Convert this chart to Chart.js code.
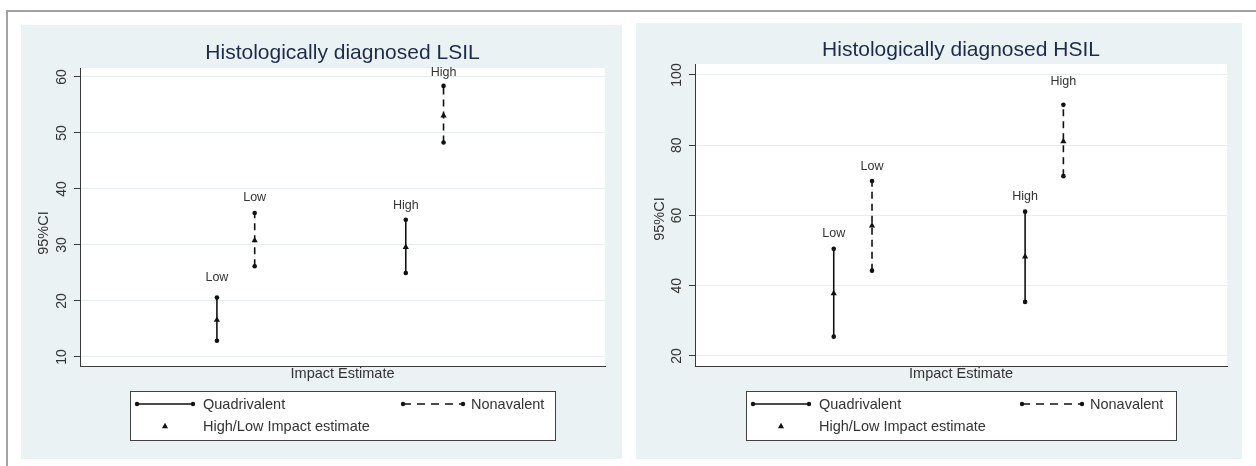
<!DOCTYPE html>
<html>
<head>
<meta charset="utf-8">
<title>Histologically diagnosed LSIL / HSIL</title>
<script src="https://cdn.jsdelivr.net/npm/chart.js@4.4.1/dist/chart.umd.min.js"></script>
<style>
  html, body { margin: 0; padding: 0; background: #fff; }
  body { width: 1256px; height: 466px; position: relative; overflow: hidden;
         font-family: 'Liberation Sans', Arial, sans-serif; }
  .frame { position: absolute; left: 6px; top: 10px; right: -4px; bottom: -4px;
           border-left: 2px solid #a2a2a2; border-top: 2px solid #a2a2a2; }
  .panel { position: absolute; background: #eaf2f3; }
  #panelL { left: 21px; top: 25px; width: 601px; height: 434px; }
  #panelR { left: 636px; top: 23px; width: 606px; height: 436px; }
</style>
</head>
<body>
<div class="frame"></div>
<div class="panel" id="panelL"><canvas id="lsilChart" width="601" height="434"></canvas></div>
<div class="panel" id="panelR"><canvas id="hsilChart" width="606" height="436"></canvas></div>

<script>
// ── Data ───────────────────────────────────────────────
const SERIES_NAMES = ['Quadrivalent', 'Nonavalent'];
const MARKER_NAME  = 'High/Low Impact estimate';
const X_TITLE      = 'Impact Estimate';
const Y_TITLE      = '95%CI';

// one entry per error bar: Quad-Low, Nona-Low, Quad-High, Nona-High
const BAR_SERIES = [0, 1, 0, 1];
const BAR_X      = [1, 1.2, 2, 2.2];
const BAR_LABELS = ['Low', 'Low', 'High', 'High'];

const LSIL_LOWER    = [12.9, 26.2, 25.0, 48.3];
const LSIL_EST      = [16.6, 30.8, 29.6, 53.1];
const LSIL_UPPER    = [20.6, 35.7, 34.5, 58.4];
const LSIL_LABEL_AT = [24.2, 38.4, 37.0, 60.7];
const LSIL_TICKS    = [10, 20, 30, 40, 50, 60];

const HSIL_LOWER    = [25.5, 44.3, 35.4, 71.2];
const HSIL_EST      = [37.8, 57.1, 48.3, 81.1];
const HSIL_UPPER    = [50.5, 69.8, 61.1, 91.5];
const HSIL_LABEL_AT = [54.9, 73.9, 65.3, 98.0];
const HSIL_TICKS    = [20, 40, 60, 80, 100];

// ── Look ───────────────────────────────────────────────
const INK      = '#111111';
const AXIS     = '#3a3a3a';
const GRID     = '#e7edef';
const TEXT     = '#333333';
const TITLE_C  = '#1d2b4a';
const FONT     = "'Liberation Sans', Arial, sans-serif";
const DASH     = [7, 5];

Chart.defaults.font.family = FONT;
Chart.defaults.color = TEXT;

function triangle(ctx, x, y, r) {
  ctx.beginPath();
  ctx.moveTo(x, y - r);
  ctx.lineTo(x + r * 0.95, y + r * 0.7);
  ctx.lineTo(x - r * 0.95, y + r * 0.7);
  ctx.closePath();
  ctx.fill();
}

function dotLine(ctx, x1, x2, y, dash) {
  ctx.save();
  ctx.strokeStyle = INK; ctx.fillStyle = INK; ctx.lineWidth = 1.3;
  ctx.setLineDash(dash);
  ctx.beginPath(); ctx.moveTo(x1, y); ctx.lineTo(x2, y); ctx.stroke();
  ctx.setLineDash([]);
  [x1, x2].forEach(x => { ctx.beginPath(); ctx.arc(x, y, 2.2, 0, Math.PI * 2); ctx.fill(); });
  ctx.restore();
}

// titles, Low/High labels, plot background and the Stata-style legend box
const decor = {
  id: 'decor',
  beforeDraw(chart, args, o) {
    const { ctx, chartArea: a } = chart;
    ctx.save();
    ctx.fillStyle = '#ffffff';
    ctx.fillRect(a.left, a.top, a.right - a.left, a.bottom - a.top);
    ctx.restore();
  },
  afterDatasetsDraw(chart, args, o) {
    const { ctx, scales: { x, y } } = chart;
    ctx.save();
    ctx.fillStyle = TEXT;
    ctx.font = '12.5px ' + FONT;
    ctx.textAlign = 'center';
    ctx.textBaseline = 'middle';
    BAR_LABELS.forEach((t, i) => {
      ctx.fillText(t, x.getPixelForValue(BAR_X[i]), y.getPixelForValue(o.labelAt[i]));
    });
    ctx.restore();
  },
  afterDraw(chart, args, o) {
    const { ctx, chartArea: a } = chart;
    ctx.save();
    // main title
    ctx.fillStyle = TITLE_C;
    ctx.font = '21px ' + FONT;
    ctx.textAlign = 'center';
    ctx.textBaseline = 'alphabetic';
    ctx.fillText(o.title, (a.left + a.right) / 2, o.titleY);
    // y title
    ctx.fillStyle = TEXT;
    ctx.font = '14.5px ' + FONT;
    ctx.textBaseline = 'middle';
    ctx.translate(o.yTitle.x, o.yTitle.y);
    ctx.rotate(-Math.PI / 2);
    ctx.fillText(Y_TITLE, 0, 0);
    ctx.restore();

    // legend
    const lg = o.legend;
    ctx.save();
    ctx.fillStyle = '#ffffff';
    ctx.fillRect(lg.x, lg.y, lg.w, lg.h);
    ctx.strokeStyle = '#404040';
    ctx.lineWidth = 1;
    ctx.strokeRect(lg.x + 0.5, lg.y + 0.5, lg.w, lg.h);
    const r1 = lg.y + 13, r2 = lg.y + 35;
    dotLine(ctx, lg.x + 7, lg.x + 63, r1, []);
    dotLine(ctx, lg.x + lg.nonaX, lg.x + lg.nonaX + 60, r1, [8, 6]);
    ctx.fillStyle = INK;
    triangle(ctx, lg.x + 35, r2, 3.2);
    ctx.fillStyle = TEXT;
    ctx.font = '14.5px ' + FONT;
    ctx.textAlign = 'left';
    ctx.textBaseline = 'middle';
    ctx.fillText(SERIES_NAMES[0], lg.x + 73, r1 + 1);
    ctx.fillText(SERIES_NAMES[1], lg.x + lg.nonaX + 68, r1 + 1);
    ctx.fillText(MARKER_NAME, lg.x + 73, r2 + 1);
    ctx.restore();
  },
};

function initPanel(canvasId, d) {
  const el = document.getElementById(canvasId);
  if (!el) return;

  const bars = BAR_X.map((bx, i) => ({
    label: SERIES_NAMES[BAR_SERIES[i]],
    data: [{ x: bx, y: d.lower[i] }, { x: bx, y: d.upper[i] }],
    showLine: true,
    borderColor: INK,
    borderWidth: 1.6,
    borderDash: BAR_SERIES[i] === 1 ? DASH : [],
    pointStyle: 'circle',
    pointRadius: 2.3,
    pointBorderWidth: 0,
    pointBackgroundColor: INK,
  }));

  const estimates = {
    label: MARKER_NAME,
    data: BAR_X.map((bx, i) => ({ x: bx, y: d.est[i] })),
    pointStyle: 'triangle',
    pointRadius: 3.6,
    pointBorderWidth: 0,
    pointBackgroundColor: INK,
  };

  new Chart(el, {
    type: 'scatter',
    data: { datasets: [estimates, ...bars] },
    options: {
      responsive: false,
      animation: false,
      layout: { padding: d.padding },
      plugins: {
        legend: { display: false },
        tooltip: { enabled: false },
        decor: {
          title: d.title, titleY: d.titleY, yTitle: d.yTitle,
          labelAt: d.labelAt, legend: d.legend,
        },
      },
      scales: {
        x: {
          type: 'linear', min: 0.275, max: 3.055,
          ticks: { display: false },
          grid: { display: false },
          border: { display: true, color: AXIS, width: 1 },
          title: { display: true, text: X_TITLE, padding: 0, color: TEXT, font: { size: 14.5 } },
          afterFit: s => { s.height = 17; },
        },
        y: {
          type: 'linear', min: d.min, max: d.max,
          afterBuildTicks: s => { s.ticks = d.ticks.map(v => ({ value: v })); },
          ticks: {
            minRotation: 90, maxRotation: 90, crossAlign: 'center',
            padding: d.tickPad, color: TEXT, font: { size: 14 },
          },
          grid: { color: GRID, lineWidth: 1, tickColor: AXIS, tickLength: 6 },
          border: { display: true, color: AXIS, width: 1 },
          afterFit: s => { s.width = 59; },
        },
      },
    },
    plugins: [decor],
  });
}

document.addEventListener('DOMContentLoaded', () => {
  initPanel('lsilChart', {
    title: 'Histologically diagnosed LSIL', titleY: 34,
    lower: LSIL_LOWER, est: LSIL_EST, upper: LSIL_UPPER, labelAt: LSIL_LABEL_AT,
    ticks: LSIL_TICKS, min: 8.39, max: 61.6, tickPad: 4.2,
    padding: { left: 0, right: 17, top: 43, bottom: 76 },
    yTitle: { x: 23, y: 208 },
    legend: { x: 109, y: 366, w: 425, h: 49, nonaX: 273 },
  });
  initPanel('hsilChart', {
    title: 'Histologically diagnosed HSIL', titleY: 33,
    lower: HSIL_LOWER, est: HSIL_EST, upper: HSIL_UPPER, labelAt: HSIL_LABEL_AT,
    ticks: HSIL_TICKS, min: 17.15, max: 103.13, tickPad: 0,
    padding: { left: 0, right: 15, top: 41, bottom: 76 },
    yTitle: { x: 24, y: 196 },
    legend: { x: 110, y: 368, w: 430, h: 49, nonaX: 276 },
  });
});
</script>
</body>
</html>
